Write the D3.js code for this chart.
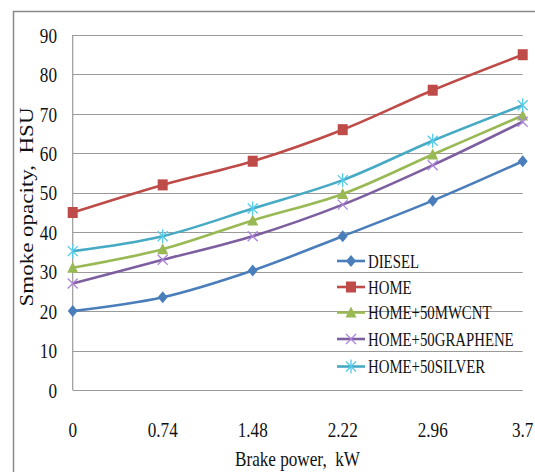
<!DOCTYPE html>
<html>
<head>
<meta charset="utf-8">
<script src="https://cdn.jsdelivr.net/npm/d3@7"></script>
<style>
  html, body { margin: 0; padding: 0; background: #fff; }
  svg { display: block; }
  text { font-family: "Liberation Serif", "Times New Roman", serif; fill: #111; white-space: pre; }
</style>
</head>
<body>
<svg id="chart" width="535" height="472"></svg>
<script>
// Brake power categories (kW) and smoke opacity (HSU) per fuel blend
const loads = ["0", "0.74", "1.48", "2.22", "2.96", "3.7"];
const diesel   = [20, 23.5, 30.3, 39, 48, 58];
const home     = [45, 52, 58, 66, 76, 85];
const mwcnt    = [31, 35.7, 43, 49.7, 59.7, 69.6];
const graphene = [27, 33, 39, 47, 57, 68];
const silver   = [35.2, 39, 46, 53.2, 63.2, 72.2];
const yTicks   = [0, 10, 20, 30, 40, 50, 60, 70, 80, 90];

const seriesNames  = ["DIESEL", "HOME", "HOME+50MWCNT", "HOME+50GRAPHENE", "HOME+50SILVER"];
const seriesValues = [diesel, home, mwcnt, graphene, silver];
const seriesColors = ["#4A7EBB", "#BE4B48", "#98B954", "#7D5FA0", "#46AAC5"];
const seriesMarkers = ["diamond", "square", "triangle", "cross", "star"];

const svg = d3.select("#chart");
const SX = 0.78; // horizontal squeeze of the serif lettering

const plot = { left: 72.7, right: 522.7, top: 35, bottom: 390 };

const x = d3.scalePoint().domain(loads).range([plot.left, plot.right]).padding(0);
const y = d3.scaleLinear().domain([0, 90]).range([plot.bottom, plot.top]);

// Outer chart frame
svg.append("rect")
  .attr("x", 13.5).attr("y", 11.5)
  .attr("width", 540).attr("height", 480)
  .attr("fill", "none").attr("stroke", "#8a8a8a").attr("stroke-width", 1.5);

// Horizontal gridlines
svg.append("g").selectAll("line").data(yTicks).join("line")
  .attr("x1", plot.left).attr("x2", plot.right)
  .attr("y1", d => Math.round(y(d)) + 0.5).attr("y2", d => Math.round(y(d)) + 0.5)
  .attr("stroke", "#9a9a9a").attr("stroke-width", 1.2);

// Vertical axis line
svg.append("line")
  .attr("x1", plot.left).attr("x2", plot.left)
  .attr("y1", plot.top).attr("y2", plot.bottom)
  .attr("stroke", "#9a9a9a").attr("stroke-width", 1.2);

// Y tick labels
svg.append("g").selectAll("text").data(yTicks).join("text")
  .attr("transform", d => `translate(57,${y(d)}) scale(${SX},1)`)
  .attr("text-anchor", "end").attr("dy", "0.35em")
  .style("font-size", "22px")
  .text(d => d);

// X tick labels
svg.append("g").selectAll("text").data(loads).join("text")
  .attr("transform", d => `translate(${x(d)},437) scale(${SX},1)`)
  .attr("text-anchor", "middle")
  .style("font-size", "22px")
  .text(d => d);

// Axis titles
svg.append("text")
  .attr("transform", `translate(297.5,466) scale(${SX},1)`)
  .attr("text-anchor", "middle")
  .style("font-size", "22px")
  .text("Brake power,  kW");

svg.append("text")
  .attr("transform", `translate(33,207) scale(${SX},1) rotate(-90)`)
  .attr("text-anchor", "middle")
  .style("font-size", "23px")
  .text("Smoke opacity,  HSU");

// Marker shapes
function drawMarker(g, type, color) {
  if (type === "diamond") {
    g.append("path").attr("d", "M0,-6L5,0L0,6L-5,0Z").attr("fill", color);
  } else if (type === "square") {
    g.append("rect").attr("x", -5).attr("y", -5.5).attr("width", 10).attr("height", 11).attr("fill", color);
  } else if (type === "triangle") {
    g.append("path").attr("d", "M0,-6L5.5,5L-5.5,5Z").attr("fill", color);
  } else if (type === "cross") {
    g.append("path").attr("d", "M-5,-5L5,5M-5,5L5,-5")
      .attr("stroke", d3.color(color).brighter(0.9)).attr("stroke-width", 1.3).attr("fill", "none");
  } else if (type === "star") {
    g.append("path").attr("d", "M-5,-5L5,5M-5,5L5,-5M0,-7L0,7")
      .attr("stroke", d3.color(color).brighter(0.5)).attr("stroke-width", 1.3).attr("fill", "none");
  }
}

const line = d3.line()
  .x((d, i) => x(loads[i]))
  .y(d => y(d))
  .curve(d3.curveCatmullRom.alpha(0.5));

// Series lines and markers
seriesValues.forEach((vals, s) => {
  const g = svg.append("g");
  g.append("path").datum(vals)
    .attr("d", line)
    .attr("fill", "none")
    .attr("stroke", seriesColors[s])
    .attr("stroke-width", 2.6)
    .attr("stroke-linejoin", "round");
  vals.forEach((v, i) => {
    const m = g.append("g").attr("transform", `translate(${x(loads[i])},${y(v)})`);
    drawMarker(m, seriesMarkers[s], seriesColors[s]);
  });
});

// Legend
const legendRows = [261, 287, 312.5, 339, 366.5];
seriesNames.forEach((name, s) => {
  const row = svg.append("g").attr("transform", `translate(0,${legendRows[s]})`);
  row.append("line").attr("x1", 337).attr("x2", 365).attr("y1", 0).attr("y2", 0)
    .attr("stroke", seriesColors[s]).attr("stroke-width", 2.6);
  drawMarker(row.append("g").attr("transform", "translate(351,0)"), seriesMarkers[s], seriesColors[s]);
  row.append("text")
    .attr("transform", `translate(368,0) scale(${SX},1)`)
    .attr("dy", "0.35em")
    .style("font-size", "19px")
    .text(name);
});
</script>
</body>
</html>
